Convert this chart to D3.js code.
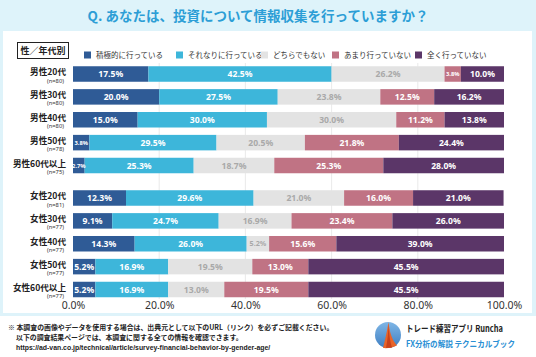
<!DOCTYPE html>
<html><head><meta charset="utf-8">
<script src="https://cdn.jsdelivr.net/npm/d3@7/dist/d3.min.js"></script>
<style>
html,body{margin:0;padding:0;background:#fff;}
svg{display:block;font-family:"Noto Sans CJK JP","Noto Sans",sans-serif;}
</style></head>
<body>
<svg id="c" width="536" height="357"></svg>
<script>
const categories = ["男性20代","男性30代","男性40代","男性50代","男性60代以上","女性20代","女性30代","女性40代","女性50代","女性60代以上"];
const sampleSizes = [80,80,80,78,75,81,77,77,77,77];
const seriesNames = ["積極的に行っている","それなりに行っている","どちらでもない","あまり行っていない","全く行っていない"];
const active    = [17.5,20.0,15.0,3.8,2.7,12.3,9.1,14.3,5.2,5.2];
const somewhat  = [42.5,27.5,30.0,29.5,25.3,29.6,24.7,26.0,16.9,16.9];
const neutral   = [26.2,23.8,30.0,20.5,18.7,21.0,16.9,5.2,19.5,13.0];
const notMuch   = [3.8,12.5,11.2,21.8,25.3,16.0,23.4,15.6,13.0,19.5];
const notAtAll  = [10.0,16.2,13.8,24.4,28.0,21.0,26.0,39.0,45.5,45.5];
const tickValues = [0,20,40,60,80,100];
const colors = ["#2f5b96","#3db6da","#e3e3e3","#c07384","#5b3668"];
const labelColors = ["#fff","#fff","#a9a9a9","#fff","#fff"];

const series = [active, somewhat, neutral, notMuch, notAtAll];
const svg = d3.select("#c");

// background frame
svg.append("rect").attr("x",0).attr("y",0).attr("width",536).attr("height",316).attr("fill","#def3fa");
svg.append("rect").attr("x",3).attr("y",31).attr("width",529).attr("height",282).attr("fill","#fff");

// title
svg.append("text").attr("x",258).attr("y",20.5).attr("text-anchor","middle")
  .attr("font-size",13.5).attr("font-weight","bold").attr("fill","#2c9ed6")
  .text("Q. あなたは、投資について情報収集を行っていますか？");

// category header box
svg.append("rect").attr("x",17.5).attr("y",42.5).attr("width",51).attr("height",16)
  .attr("fill","#fff").attr("stroke","#222").attr("stroke-width",1);
svg.append("text").attr("x",43).attr("y",54.3).attr("text-anchor","middle")
  .attr("font-size",9).attr("font-weight","bold").attr("fill","#222").text("性／年代別");

// scales
const x = d3.scaleLinear().domain([0,100]).range([73,504]);
const pos = i => i + (i >= 5 ? 0.42 : 0);
const y = d3.scaleLinear().domain([0, pos(9)]).range([74, 289.5]);
const barH = 15.5;

// legend
const legendX = [84, 176, 261, 332, 415];
const lg = svg.append("g");
seriesNames.forEach((n,k)=>{
  lg.append("rect").attr("x",legendX[k]).attr("y",51.5).attr("width",7).attr("height",7).attr("fill",colors[k]);
  lg.append("text").attr("x",legendX[k]+12).attr("y",58).attr("font-size",7.5).attr("fill","#333").text(n);
});

// grid lines
svg.append("g").selectAll("line").data([20,40,60,80]).join("line")
  .attr("x1",d=>x(d)).attr("x2",d=>x(d)).attr("y1",63).attr("y2",299)
  .attr("stroke","#e4e4e4").attr("stroke-width",0.8);

// stacked bars
const rows = categories.map((c,i)=>{
  let acc = 0;
  return series.map((s,k)=>{ const seg = {i,k,v:s[i],x0:acc,x1:acc+s[i]}; acc += s[i]; return seg; });
});
const segs = rows.flat();
const g = svg.append("g");
g.selectAll("rect").data(segs).join("rect")
  .attr("x",d=>x(d.x0)).attr("width",d=>Math.max(0,x(Math.min(d.x1,100))-x(d.x0)))
  .attr("y",d=>y(pos(d.i))-barH/2).attr("height",barH)
  .attr("fill",d=>colors[d.k]);
g.selectAll("text").data(segs).join("text")
  .attr("x",d=>(x(d.x0)+x(Math.min(d.x1,100)))/2)
  .attr("y",d=>y(pos(d.i)))
  .attr("dy","0.36em").attr("text-anchor","middle")
  .attr("font-size",d=> d.v < 4 ? 5.8 : (d.v < 6 && d.k===2 ? 7.2 : 8.6))
  .attr("font-weight","bold")
  .attr("font-family","'Noto Sans','Open Sans',sans-serif")
  .attr("fill",d=>labelColors[d.k])
  .text(d=>d.v.toFixed(1)+"%");

// row labels
const rl = svg.append("g");
categories.forEach((c,i)=>{
  rl.append("text").attr("x",66).attr("y",y(pos(i))+1.2).attr("text-anchor","end")
    .attr("font-size",8.6).attr("font-weight","bold").attr("fill","#222").text(c);
  rl.append("text").attr("x",64).attr("y",y(pos(i))+8.6).attr("text-anchor","end")
    .attr("font-size",5.8).attr("fill","#333").attr("font-family","'Noto Sans',sans-serif").text("(n="+sampleSizes[i]+")");
});

// x axis
const ax = svg.append("g").attr("transform","translate(0,298)")
  .call(d3.axisBottom(x).tickValues(tickValues).tickFormat(d=>d.toFixed(1)+"%").tickSize(0).tickPadding(4));
ax.select(".domain").remove();
ax.selectAll("text").attr("font-size",10.5).attr("fill","#333")
  .attr("font-family","'Noto Sans','Open Sans',sans-serif");

// footer
const ft = svg.append("g").attr("fill","#222").attr("font-weight","bold");
ft.append("text").attr("x",8).attr("y",330).attr("font-size",6.9).text("※ 本調査の画像やデータを使用する場合は、出典元として以下のURL（リンク）を必ずご記載ください。");
ft.append("text").attr("x",16).attr("y",340).attr("font-size",6.9).text("以下の調査結果ページでは、本調査に関する全ての情報を確認できます。");
ft.append("text").attr("x",16).attr("y",350).attr("font-size",6.9).attr("font-family","'Liberation Sans',Arial,sans-serif")
  .text("https://ad-van.co.jp/technical/article/survey-financial-behavior-by-gender-age/");

// logo
const defs = svg.append("defs");
const grad = defs.append("linearGradient").attr("id","lgb").attr("x1","0").attr("y1","0").attr("x2","0").attr("y2","1");
grad.append("stop").attr("offset","0").attr("stop-color","#7fb6e6");
grad.append("stop").attr("offset","1").attr("stop-color","#3f7fc2");
svg.append("circle").attr("cx",388).attr("cy",335).attr("r",13).attr("fill","url(#lgb)");
svg.append("path").attr("d","M383,348 C385,340 387,332 388.5,322 C389.5,332 392,340 397,345.5 C393,347.5 388,348.5 383,348 Z")
  .attr("fill","#e8642a");
svg.append("path").attr("d","M386,348 C387.5,340 388.5,332 388.5,324 C389,334 390,341 392,347.5 Z").attr("fill","#c9421c");
svg.append("text").attr("x",406).attr("y",332).attr("font-size",9).attr("font-weight","bold").attr("fill","#222")
  .attr("textLength",97).attr("lengthAdjust","spacingAndGlyphs").text("トレード練習アプリ Runcha");
svg.append("text").attr("x",406).attr("y",346.5).attr("font-size",8.2).attr("font-weight","bold").attr("fill","#2a8fd4")
  .attr("textLength",109).attr("lengthAdjust","spacingAndGlyphs").text("FX分析の解説 テクニカルブック");
</script>
</body></html>
